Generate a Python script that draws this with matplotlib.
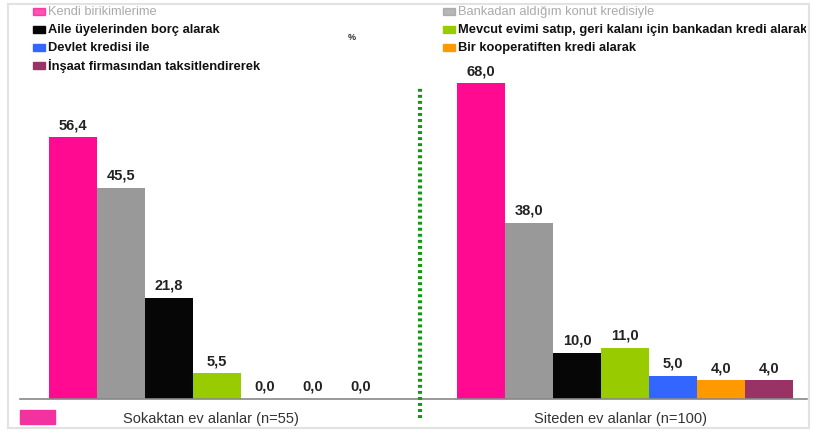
import numpy as np
import matplotlib
matplotlib.use("Agg")
from matplotlib import pyplot as plt
from matplotlib.patches import Rectangle
from matplotlib.transforms import Bbox

plt.rcParams['font.family'] = ['Liberation Sans', 'DejaVu Sans']

series = ["Kendi birikimlerime", "Bankadan aldığım konut kredisiyle",
          "Aile üyelerinden borç alarak", "Mevcut evimi satıp, geri kalanı için bankadan kredi alarak",
          "Devlet kredisi ile", "Bir kooperatiften kredi alarak",
          "İnşaat firmasından taksitlendirerek"]
colors = ["#FF0A90", "#999999", "#060606", "#99CC00", "#3366FF", "#FF9900", "#993366"]
groups = ["Sokaktan ev alanlar (n=55)", "Siteden ev alanlar (n=100)"]
sokak = [56.4, 45.5, 21.8, 5.5, 0.0, 0.0, 0.0]
site = [68.0, 38.0, 10.0, 11.0, 5.0, 4.0, 4.0]

W, H = 816, 435
fig = plt.figure(figsize=(W / 100, H / 100), dpi=100)
ax = fig.add_axes([0, 0, 1, 1])
# first bar centre at px 73, 48 px per bar; baseline at px 400 from top, 4.64 px per unit
px_x, px_y = 48.0, 4.64
ax.set_xlim(-73 / px_x, (W - 73) / px_x)
ax.set_ylim(-(H - 400) / px_y, 400 / px_y)
ax.axis("off")

x_left = np.arange(7)
x_right = np.arange(7) + 8.5
for xs, vals in [(x_left, sokak), (x_right, site)]:
    ax.bar(xs, vals, width=1.0, color=colors)
    for x, v in zip(xs, vals):
        ax.text(x, v + 1.3, f"{v:.1f}".replace(".", ","), ha="center", va="bottom",
                fontsize=10.5, fontweight="bold", color="#222222")

# baseline
ax.plot([-1.1, 15.3], [0, 0], color="#888888", lw=1.2)
# dotted separator
ax.plot([7.23, 7.23], [-4.0, 67], color="#119911", lw=3, linestyle=(0, (0.7, 0.75)))

# group labels
ax.text(2.875, -4.2, groups[0], ha="center", va="center", fontsize=10.5, color="#333333")
ax.text(11.4, -4.2, groups[1], ha="center", va="center", fontsize=10.5, color="#333333")
fig.patches.append(Rectangle((20 / W, 1 - 425 / H), 35 / W, 14 / H, transform=fig.transFigure,
                             color="#F2339F", zorder=3))

# outer faint frame
fig.patches.append(Rectangle((8 / W, 1 - 429 / H), 801 / W, 424 / H, transform=fig.transFigure,
                             fill=False, edgecolor="#e2e2e2", lw=1.5))

# legend
leg_pos = [(33, 12), (443, 12), (33, 30), (443, 30), (33, 48), (443, 48), (33, 66)]
clip = Bbox.from_extents(0, 0, 806, H)
for i, (name, c) in enumerate(zip(series, colors)):
    lx, ly = leg_pos[i]
    faded = i < 2
    fig.patches.append(Rectangle((lx / W, 1 - (ly + 4) / H), 12 / W, 7 / H,
                                 transform=fig.transFigure, color=c, alpha=0.7 if faded else 1))
    t = fig.text((lx + 15) / W, 1 - ly / H, name, ha="left", va="center", fontsize=9.3,
                 fontweight="normal" if faded else "bold",
                 color="#aaaaaa" if faded else "#111111")
    t.set_clip_box(clip)
    t.set_clip_on(True)
fig.text(352 / W, 1 - 37 / H, "%", ha="center", va="center", fontsize=6.5, fontweight="bold", color="#333333")

fig.savefig("out.png", dpi=100)
